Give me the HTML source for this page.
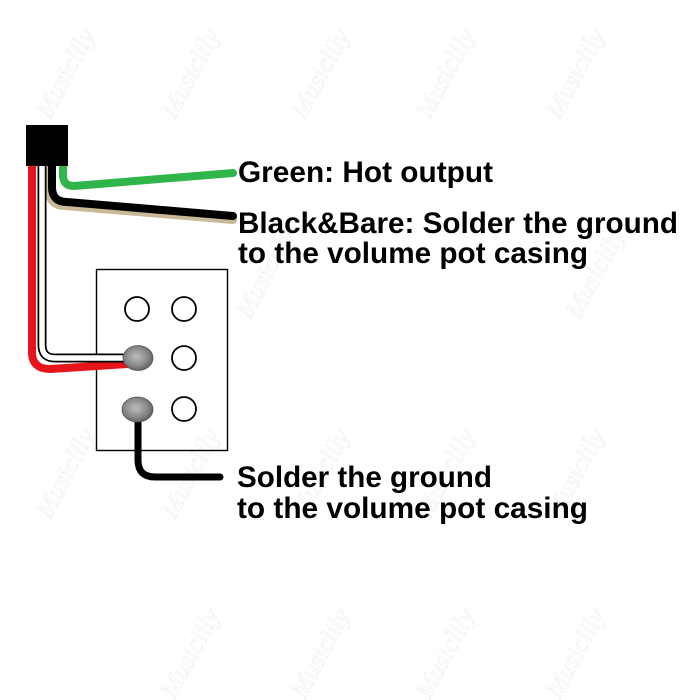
<!DOCTYPE html>
<html>
<head>
<meta charset="utf-8">
<style>
html,body{margin:0;padding:0;background:#fff;}
svg{display:block;}
</style>
</head>
<body>
<svg width="700" height="700" viewBox="0 0 700 700" xmlns="http://www.w3.org/2000/svg">
<defs>
<radialGradient id="dot" cx="45%" cy="45%" r="60%">
<stop offset="0" stop-color="#bdbdbd"/>
<stop offset="0.6" stop-color="#8a8a8a"/>
<stop offset="1" stop-color="#5a5a5a"/>
</radialGradient>
</defs>
<rect width="700" height="700" fill="#fff"/>

<!-- faint watermarks -->
<g font-family="Liberation Serif, serif" font-style="italic" font-size="26" fill="none" stroke="#f1f1f1" stroke-width="0.7">
<text transform="translate(50,120) rotate(-62)">Musiclily</text>
<text transform="translate(175,120) rotate(-62)">Musiclily</text>
<text transform="translate(305,120) rotate(-62)">Musiclily</text>
<text transform="translate(430,120) rotate(-62)">Musiclily</text>
<text transform="translate(560,120) rotate(-62)">Musiclily</text>
<text transform="translate(50,520) rotate(-62)">Musiclily</text>
<text transform="translate(175,520) rotate(-62)">Musiclily</text>
<text transform="translate(305,520) rotate(-62)">Musiclily</text>
<text transform="translate(430,520) rotate(-62)">Musiclily</text>
<text transform="translate(560,520) rotate(-62)">Musiclily</text>
<text transform="translate(175,700) rotate(-62)">Musiclily</text>
<text transform="translate(305,700) rotate(-62)">Musiclily</text>
<text transform="translate(430,700) rotate(-62)">Musiclily</text>
<text transform="translate(560,700) rotate(-62)">Musiclily</text>
<text transform="translate(250,320) rotate(-62)">Musiclily</text>
<text transform="translate(580,320) rotate(-62)">Musiclily</text>
</g>

<!-- pot box -->
<rect x="96.5" y="269.5" width="131" height="181" fill="none" stroke="#000" stroke-width="1.4"/>

<!-- lug circles -->
<g fill="#fff" stroke="#000" stroke-width="1.8">
<circle cx="137" cy="309" r="12"/>
<circle cx="184" cy="309" r="12"/>
<circle cx="184" cy="358" r="12"/>
<circle cx="184" cy="409" r="12"/>
</g>

<!-- beige bare wire -->
<path d="M49,165 V190 Q49,206 65,206 L233,220" fill="none" stroke="#c9b996" stroke-width="8" stroke-linecap="round" stroke-linejoin="round"/>
<!-- black wire -->
<path d="M52,165 V187 Q52,202 67,202 L233,216" fill="none" stroke="#000" stroke-width="8" stroke-linecap="round" stroke-linejoin="round"/>
<!-- green wire -->
<path d="M63,165 V175 Q63,186 74,186 L233,173" fill="none" stroke="#2fb54a" stroke-width="8" stroke-linecap="round" stroke-linejoin="round"/>

<!-- red wire -->
<path d="M32,165 V352 Q32,369 50,369 L128,364" fill="none" stroke="#e8141c" stroke-width="8" stroke-linejoin="round"/>
<!-- white wire with black outline -->
<path d="M42,165 V345 Q42,358 55,358 L132,358" fill="none" stroke="#000" stroke-width="9" stroke-linejoin="round"/>
<path d="M42,165 V345 Q42,358 55,358 L132,358" fill="none" stroke="#fff" stroke-width="5.5" stroke-linejoin="round"/>

<!-- ground wire -->
<path d="M138,415 V460 Q138,477 155,477 L220,477" fill="none" stroke="#000" stroke-width="7" stroke-linecap="round" stroke-linejoin="round"/>

<!-- solder dots -->
<ellipse cx="138" cy="358" rx="15" ry="12.5" fill="url(#dot)" stroke="#555" stroke-width="0.8"/>
<ellipse cx="137.5" cy="409.5" rx="15.5" ry="12.5" fill="url(#dot)" stroke="#555" stroke-width="0.8"/>

<!-- pickup connector block -->
<rect x="26" y="125" width="42" height="41" fill="#000"/>

<!-- labels -->
<g font-family="Liberation Sans, Arial, sans-serif" font-weight="bold" font-size="29.5" fill="#000">
<text x="238" y="182" textLength="255" lengthAdjust="spacingAndGlyphs">Green: Hot output</text>
<text x="238" y="233" textLength="440" lengthAdjust="spacingAndGlyphs">Black&amp;Bare: Solder the ground</text>
<text x="238" y="263" textLength="350" lengthAdjust="spacingAndGlyphs">to the volume pot casing</text>
<text x="237" y="487" textLength="255" lengthAdjust="spacingAndGlyphs">Solder the ground</text>
<text x="237" y="518" textLength="351" lengthAdjust="spacingAndGlyphs">to the volume pot casing</text>
</g>
</svg>
</body>
</html>
